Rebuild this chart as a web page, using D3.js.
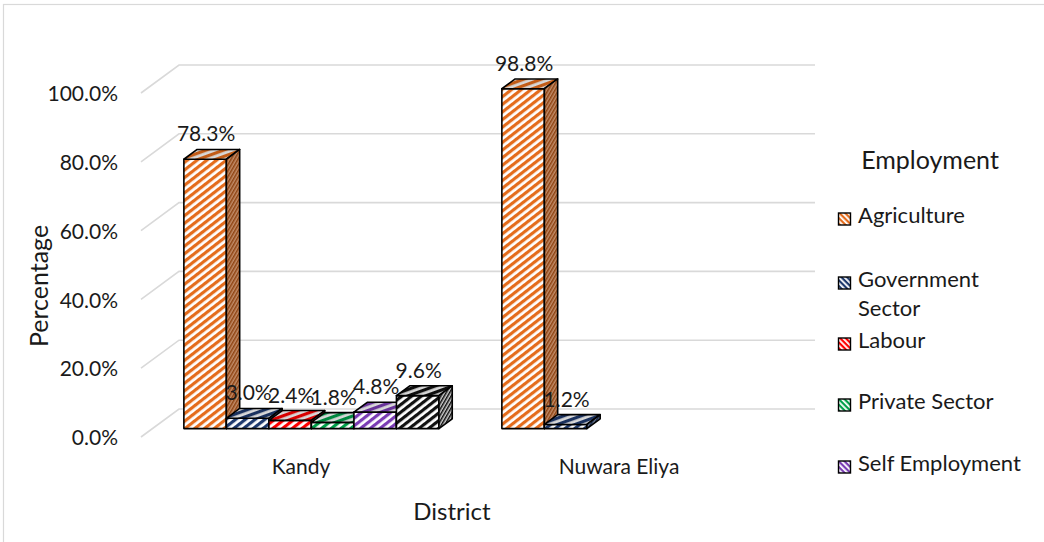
<!DOCTYPE html>
<html>
<head>
<meta charset="utf-8">
<script src="https://cdn.jsdelivr.net/npm/d3@7"></script>
<style>
  html, body { margin: 0; padding: 0; background: #ffffff; }
  svg { display: block; }
  text { font-family: Lato, "Open Sans", sans-serif; fill: #1a1a1a; }
</style>
</head>
<body>
<svg id="chart" width="1044" height="542"></svg>
<script>
// ---------------- data ----------------
const categories = ["Kandy", "Nuwara Eliya"];
const seriesNames = ["Agriculture", "Government Sector", "Labour", "Private Sector", "Self Employment", "Other"];
const kandyValues = [78.3, 3.0, 2.4, 1.8, 4.8, 9.6];
const nuwaraEliyaValues = [98.8, 1.2, null, null, null, null];
const yTickValues = [0, 20, 40, 60, 80, 100];
const legendNames = ["Agriculture", "Government\nSector", "Labour", "Private Sector", "Self Employment"];
const axisTitles = { x: "District", y: "Percentage", legend: "Employment" };

// ---------------- styles ----------------
const seriesColors = ["#E46C1C", "#1F3A6E", "#FF0000", "#00A04A", "#7A3CB4", "#111111"];

const svg = d3.select("#chart");
const defs = svg.append("defs");

// chart border
svg.append("rect").attr("x", 3.5).attr("y", 4.5).attr("width", 1100).attr("height", 600)
  .attr("fill", "none").attr("stroke", "#d9d9d9").attr("stroke-width", 1.2);

// 3D geometry (oblique projection)
const DX = 38, DY = 28;           // full floor depth offset
const z0 = 0.30, dz = 0.35;       // bar front depth & bar depth
const floorLeft = 141, floorRight = 777;

const y = d3.scaleLinear().domain([0, 100]).range([437, 93]);
const x0 = d3.scaleBand().domain(categories).range([floorLeft, floorRight]).paddingInner(0).paddingOuter(0);
const x1 = d3.scaleBand().domain(seriesNames).range([0, x0.bandwidth()]).paddingInner(0).paddingOuter(0.74);

// patterns
function shade(c, k) { const h = d3.hsl(c); h.l = h.l * k; return h.formatHex(); }
seriesColors.forEach((c, i) => {
  const pf = defs.append("pattern").attr("id", "pf" + i).attr("patternUnits", "userSpaceOnUse")
    .attr("width", 6).attr("height", 6).attr("patternTransform", "rotate(-38)");
  pf.append("rect").attr("width", 6).attr("height", 6).attr("fill", "#ffffff");
  pf.append("rect").attr("width", 6).attr("height", 3.2).attr("fill", c);
  const pt = defs.append("pattern").attr("id", "pt" + i).attr("patternUnits", "userSpaceOnUse")
    .attr("width", 6).attr("height", 6).attr("patternTransform", "rotate(-20)");
  pt.append("rect").attr("width", 6).attr("height", 6).attr("fill", "#d8d8d8");
  pt.append("rect").attr("width", 6).attr("height", 3.2).attr("fill", shade(c, 0.85));
  const ps = defs.append("pattern").attr("id", "ps" + i).attr("patternUnits", "userSpaceOnUse")
    .attr("width", 3).attr("height", 3).attr("patternTransform", "rotate(-60)");
  ps.append("rect").attr("width", 3).attr("height", 3).attr("fill", i === 5 ? "#cfcfcf" : d3.interpolateRgb(shade(c, 0.8), "#d0d0d0")(0.45));
  ps.append("rect").attr("width", 3).attr("height", 1.5).attr("fill", shade(c, 0.62));
  const pl = defs.append("pattern").attr("id", "pl" + i).attr("patternUnits", "userSpaceOnUse")
    .attr("width", 4).attr("height", 4).attr("patternTransform", "rotate(45)");
  pl.append("rect").attr("width", 4).attr("height", 4).attr("fill", "#ffffff");
  pl.append("rect").attr("width", 4).attr("height", 2.2).attr("fill", c);
});

// gridlines (front edge diagonal + back wall)
const grid = svg.append("g");
yTickValues.forEach(t => {
  const yf = y(t);
  grid.append("path")
    .attr("d", `M${floorLeft},${yf}L${floorLeft + DX},${yf - DY}L${floorRight + DX},${yf - DY}`)
    .attr("fill", "none").attr("stroke", "#d9d9d9").attr("stroke-width", 1.6);
});

// y axis labels
const yAxis = d3.axisLeft(y).tickValues(yTickValues).tickSize(0).tickPadding(0)
  .tickFormat(d => d3.format(".1f")(d) + "%");
const gy = svg.append("g").attr("transform", "translate(118,1)").call(yAxis);
gy.select(".domain").remove();
gy.selectAll("text").style("font-size", "21px").style("font-family", "Lato, sans-serif").attr("fill", "#1a1a1a");

// bars
const valuesByCat = [kandyValues, nuwaraEliyaValues];
const bars = svg.append("g");
const labels = svg.append("g");
const ddx = dz * DX, ddy = dz * DY;
categories.forEach((cat, ci) => {
  seriesNames.forEach((s, si) => {
    const v = valuesByCat[ci][si];
    if (v == null) return;
    const L = x0(cat) + x1(s) + z0 * DX;
    const w = x1.bandwidth();
    const yb = y(0) - z0 * DY;
    const yt = y(v) - z0 * DY;
    const g = bars.append("g").attr("stroke", "#000").attr("stroke-width", 1.6).attr("stroke-linejoin", "round");
    g.append("rect").attr("x", L).attr("y", yt).attr("width", w).attr("height", yb - yt)
      .attr("fill", `url(#pf${si})`);
    g.append("path").attr("d", `M${L},${yt}L${L + w},${yt}L${L + w + ddx},${yt - ddy}L${L + ddx},${yt - ddy}Z`)
      .attr("fill", `url(#pt${si})`);
    g.append("path").attr("d", `M${L + w},${yt}L${L + w + ddx},${yt - ddy}L${L + w + ddx},${yb - ddy}L${L + w},${yb}Z`)
      .attr("fill", `url(#ps${si})`);
    labels.append("text").attr("x", L + w / 2 + 1).attr("y", yt - ddy - 8)
      .attr("text-anchor", "middle").style("font-size", "21px")
      .text(d3.format(".1f")(v) + "%");
  });
});

// category labels
categories.forEach(cat => {
  svg.append("text").attr("x", x0(cat) + x0.bandwidth() / 2 + 1).attr("y", 474)
    .attr("text-anchor", "middle").style("font-size", "21px").text(cat);
});

// axis titles
svg.append("text").attr("x", 452).attr("y", 520).attr("text-anchor", "middle")
  .style("font-size", "24px").text(axisTitles.x);
svg.append("text").attr("transform", "translate(48,286) rotate(-90)").attr("text-anchor", "middle")
  .style("font-size", "25px").text(axisTitles.y);

// legend
const lg = svg.append("g");
lg.append("text").attr("x", 930).attr("y", 169).attr("text-anchor", "middle")
  .style("font-size", "25px").text(axisTitles.legend);
const legendBase = [223, 287, 348, 409, 471];
legendNames.forEach((name, i) => {
  const yy = legendBase[i];
  lg.append("rect").attr("x", 838.5).attr("y", yy - 10).attr("width", 12).attr("height", 12)
    .attr("fill", `url(#pl${i})`).attr("stroke", "#000").attr("stroke-width", 1.4);
  name.split("\n").forEach((ln, k) => {
    lg.append("text").attr("x", 858).attr("y", yy + k * 29).style("font-size", "22px").text(ln);
  });
});
</script>
</body>
</html>
